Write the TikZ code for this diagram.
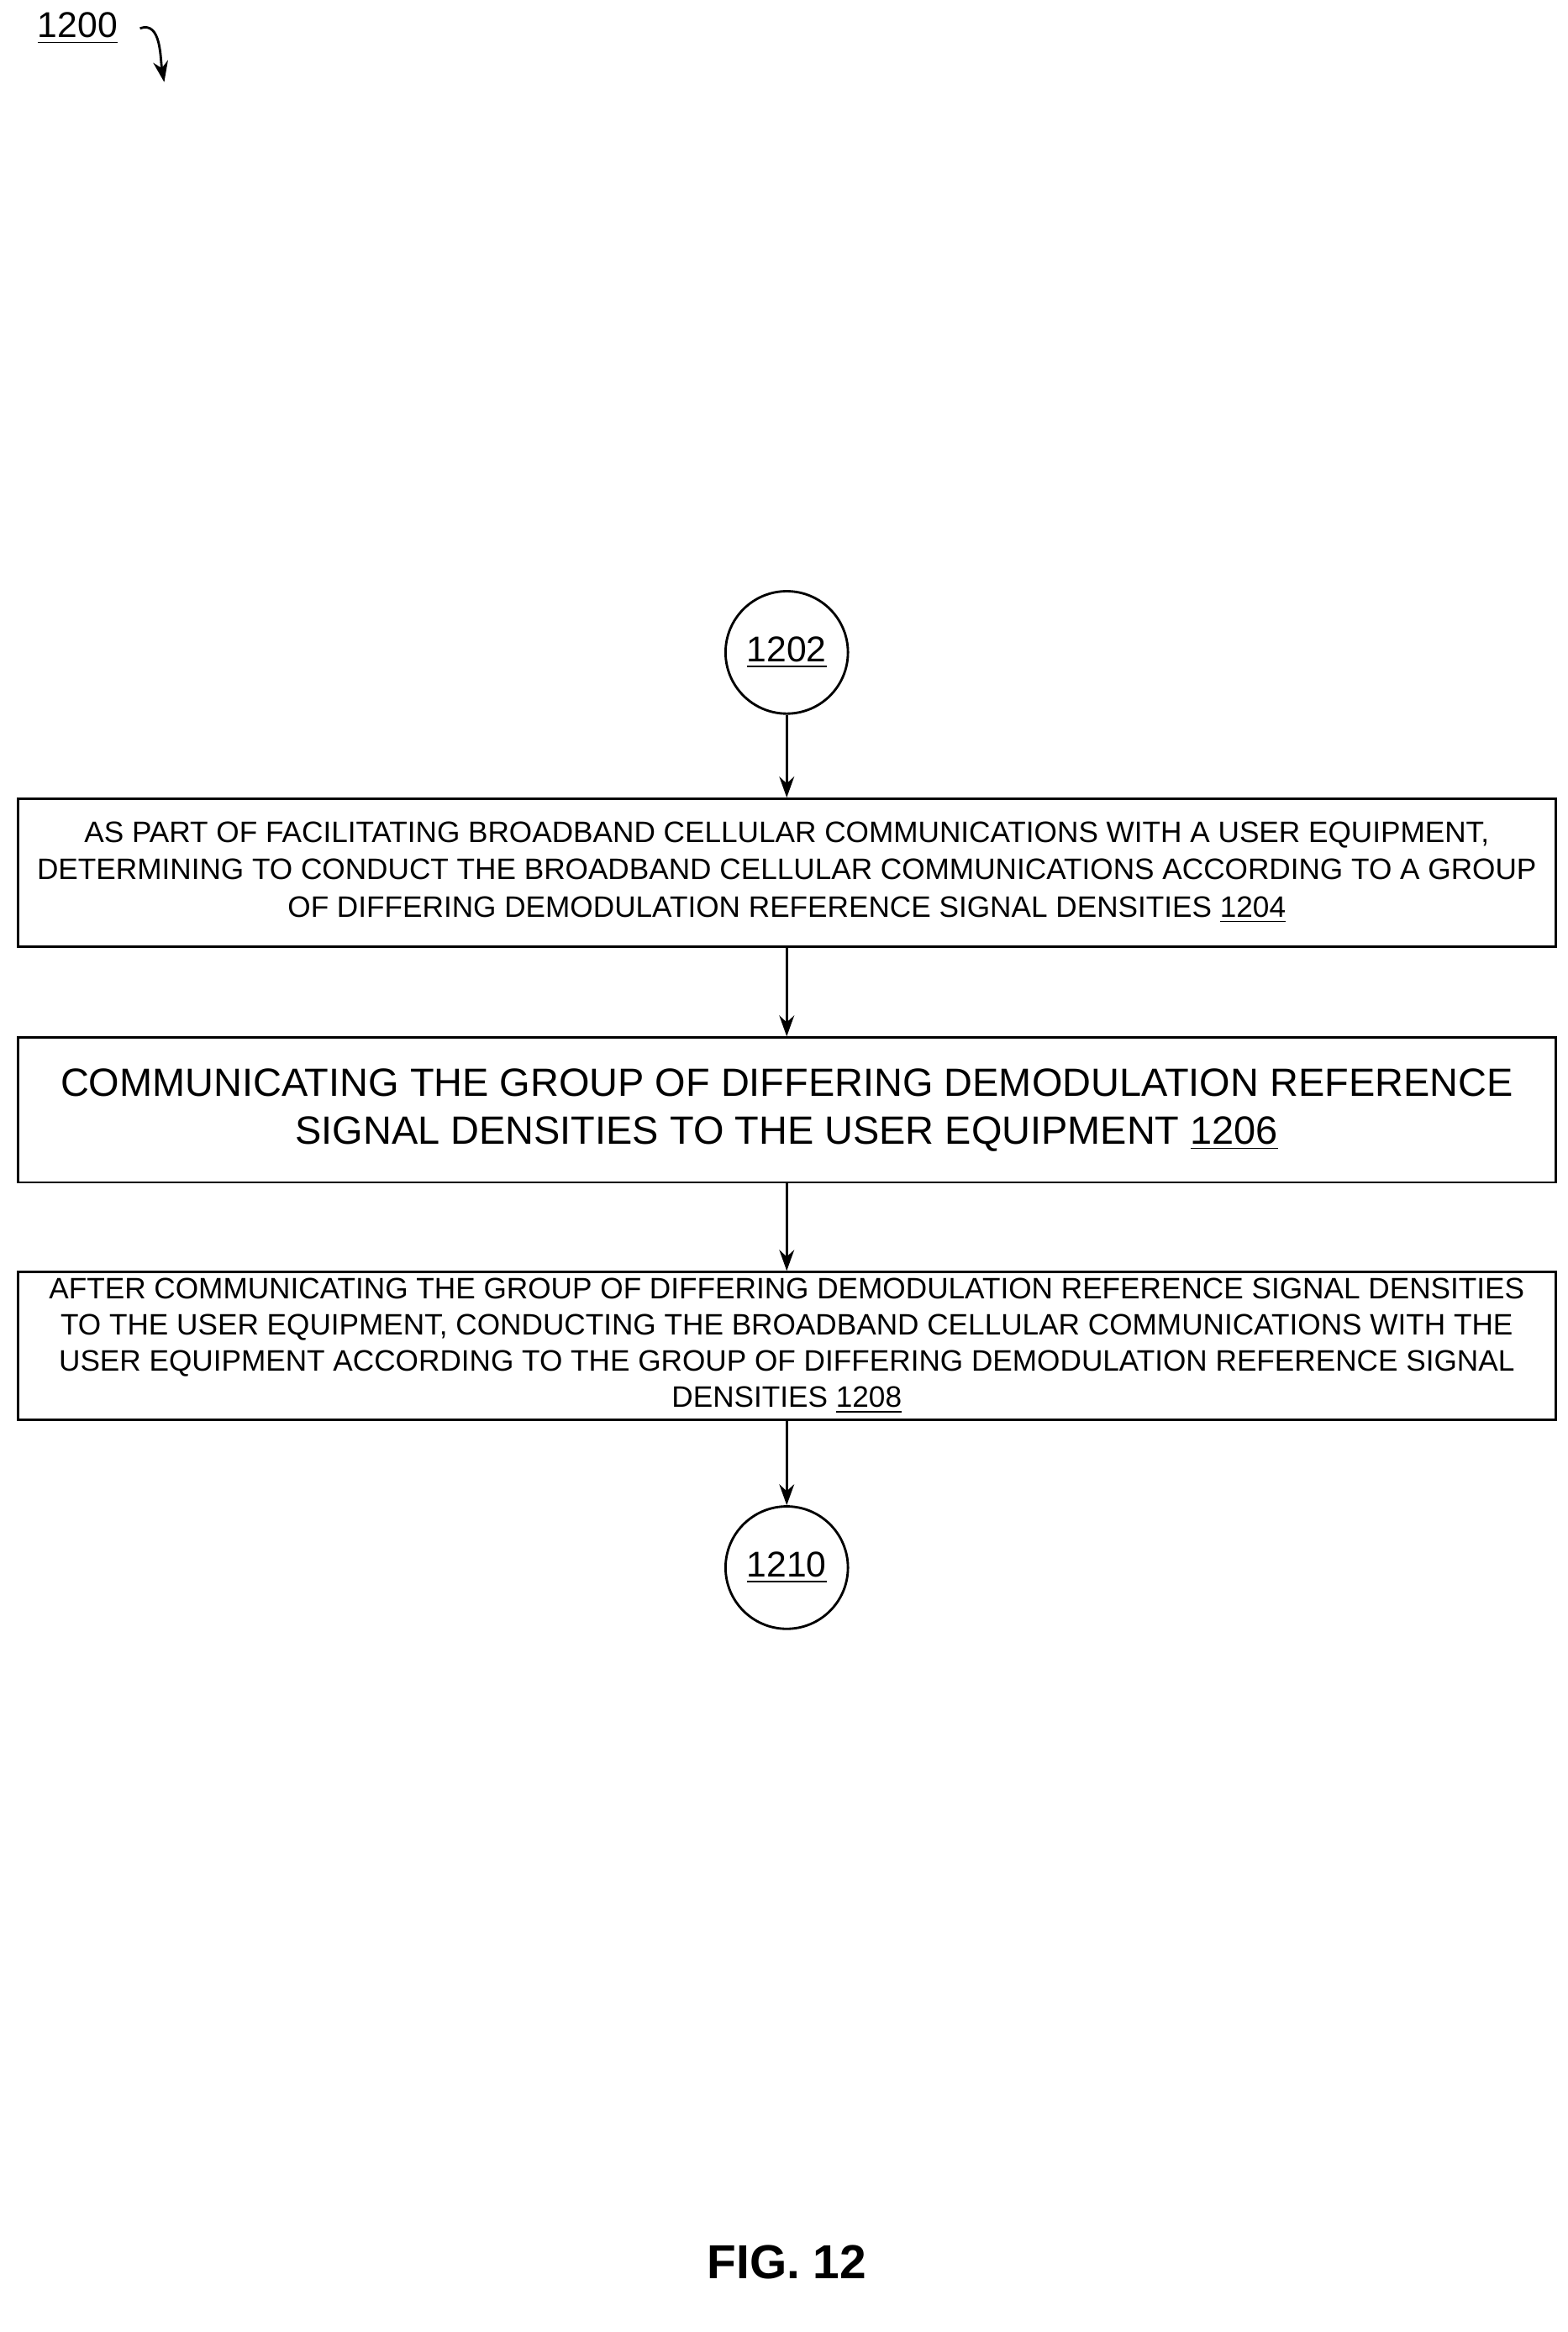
\documentclass[tikz,border=0pt]{standalone}
\usepackage{fontspec}
\setmainfont{Liberation Sans}
\usetikzlibrary{positioning, arrows.meta}

\begin{document}
\begin{tikzpicture}[
    x=0.5pt, y=-0.5pt,
    >={Stealth[length=7pt,width=5pt]},
    stepbox/.style={draw, thick, minimum width=515pt, align=center, inner sep=2pt},
    term/.style={draw, thick, circle, minimum size=41pt, inner sep=0pt, font=\fontsize{12}{14}\selectfont}
]
\useasboundingbox (0,0) rectangle (1050,1562);

% Title
\node[font=\fontsize{12}{14}\selectfont] (title) at (52,19) {\underline{1200}};
\draw[->, thick] (title.east) ++(4pt,0) to[out=20,in=100] (110,55);

% Terminals
\node[term] (start) at (527,437) {\underline{1202}};
\node[term] (stop) at (527,1050) {\underline{1210}};

% Steps
\node[stepbox, minimum height=49.5pt, font=\fontsize{9.9}{12.4}\selectfont] (determine) at (527,584.5) {
    AS PART OF FACILITATING BROADBAND CELLULAR COMMUNICATIONS WITH A USER EQUIPMENT,\\
    DETERMINING TO CONDUCT THE BROADBAND CELLULAR COMMUNICATIONS ACCORDING TO A GROUP\\
    OF DIFFERING DEMODULATION REFERENCE SIGNAL DENSITIES \underline{1204}
};
\node[stepbox, minimum height=48.5pt, font=\fontsize{13.2}{16}\selectfont] (communicate) at (527,743.5) {
    COMMUNICATING THE GROUP OF DIFFERING DEMODULATION REFERENCE\\
    SIGNAL DENSITIES TO THE USER EQUIPMENT \underline{1206}
};
\node[stepbox, minimum height=49.5pt, font=\fontsize{9.9}{12.1}\selectfont] (conduct) at (527,901.5) {
    AFTER COMMUNICATING THE GROUP OF DIFFERING DEMODULATION REFERENCE SIGNAL DENSITIES\\
    TO THE USER EQUIPMENT, CONDUCTING THE BROADBAND CELLULAR COMMUNICATIONS WITH THE\\
    USER EQUIPMENT ACCORDING TO THE GROUP OF DIFFERING DEMODULATION REFERENCE SIGNAL\\
    DENSITIES \underline{1208}
};

% Connections
\draw[->, thick] (start) -- (determine);
\draw[->, thick] (determine) -- (communicate);
\draw[->, thick] (communicate) -- (conduct);
\draw[->, thick] (conduct) -- (stop);

% Caption
\node[font=\fontsize{16}{18}\selectfont\bfseries] (caption) at (527,1515) {FIG. 12};
\end{tikzpicture}
\end{document}
